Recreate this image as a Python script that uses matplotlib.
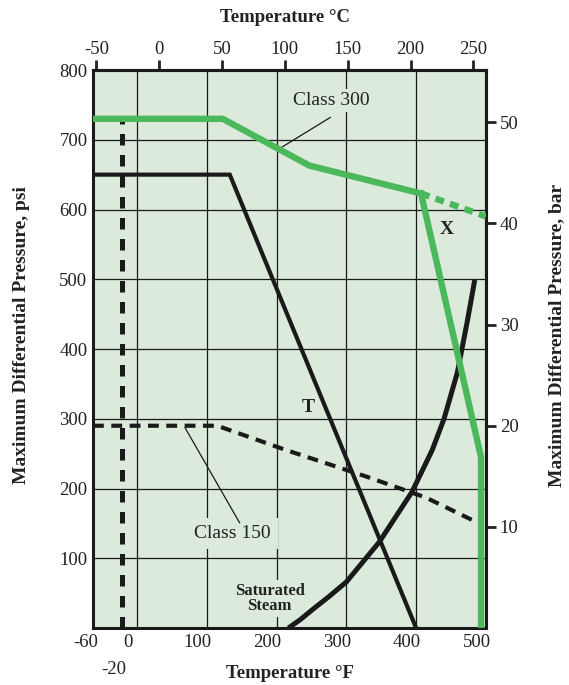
import numpy as np
import matplotlib.pyplot as plt
from matplotlib.transforms import ScaledTranslation

plt.rcParams['font.family'] = ['Liberation Serif', 'DejaVu Serif']
plt.rcParams['axes.unicode_minus'] = False

# data (deg F, psi)
class300_F = [-63, 123, 247, 407]
class300_psi = [730, 730, 663, 623]
class300_ext_F = [407, 500]
class300_ext_psi = [623, 590]
x_F = [407, 493, 493]
x_psi = [623, 245, 0]

t_F = [-63, 133, 400]
t_psi = [650, 650, 0]

class150_F = [-63, 115, 214, 329, 414, 480]
class150_psi = [290, 290, 255, 217, 187, 155]

low_F = [-22, -22]
low_psi = [0, 730]

steam_F = [217, 234, 251, 275, 300, 347, 394, 423, 440, 459, 473, 484]
steam_psi = [0, 12, 26, 45, 66, 123, 195, 255, 300, 366, 438, 499]

bottom_ticks = [-60, 0, 100, 200, 300, 400, 500]
top_ticks = [-50, 0, 50, 100, 150, 200, 250]
left_ticks = [100, 200, 300, 400, 500, 600, 700, 800]
right_ticks = [10, 20, 30, 40, 50]
grid_F = [0, 100, 200, 300, 400]
grid_psi = [100, 200, 300, 400, 500, 600, 700]

bg = '#dbeadb'
green = '#4ab85b'
ink = '#1a1a1a'
txt = '#222222'

fig = plt.figure(figsize=(5.69, 6.85), dpi=100)
ax = fig.add_axes([0.1634, 0.0832, 0.6906, 0.8146])
ax.set_facecolor(bg)
ax.set_xlim(-63, 500)
ax.set_ylim(0, 800)

for g in grid_F:
    ax.axvline(g, color=ink, lw=0.9, zorder=1)
for g in grid_psi:
    ax.axhline(g, color=ink, lw=0.9, zorder=1)

# labels with background boxes that mask the grid
ax.text(279, 756, 'Class 300', ha='center', va='center', fontsize=14, color=txt,
        bbox=dict(facecolor=bg, edgecolor='none', pad=2), zorder=2)
ax.text(137, 136, 'Class 150', ha='center', va='center', fontsize=14, color=txt,
        bbox=dict(facecolor=bg, edgecolor='none', pad=5), zorder=2)
ax.text(190, 42, 'Saturated\nSteam', ha='center', va='center', fontsize=12, fontweight='bold',
        color=txt, linespacing=0.95, bbox=dict(facecolor=bg, edgecolor='none', pad=2), zorder=2)
ax.text(246, 316, 'T', ha='center', va='center', fontsize=14, fontweight='bold', color=txt, zorder=2)
ax.text(444, 572, 'X', ha='center', va='center', fontsize=14, fontweight='bold', color=txt, zorder=2)

ax.plot([277, 207], [732, 689], color=ink, lw=0.9, zorder=3)
ax.plot([69, 147], [287, 151], color=ink, lw=0.9, zorder=3)

ax.plot(low_F, low_psi, color=ink, lw=3.6, dashes=(2.3, 1.9), zorder=4)
ax.plot(class150_F, class150_psi, color=ink, lw=3.0, dashes=(2.6, 1.8), zorder=4)
ax.plot(steam_F, steam_psi, color=ink, lw=3.6, zorder=4, solid_capstyle='butt')
ax.plot(t_F, t_psi, color=ink, lw=3.0, zorder=4, solid_joinstyle='miter')
ax.plot(class300_F, class300_psi, color=green, lw=4.6, zorder=5)
ax.plot(class300_ext_F, class300_ext_psi, color=green, lw=4.6, dashes=(1.4, 1.0), zorder=5)
ax.plot(x_F, x_psi, color=green, lw=4.6, zorder=5)

for s in ax.spines.values():
    s.set_linewidth(2.2)
    s.set_color(ink)

ax.set_xticks(bottom_ticks)
ax.set_xticklabels([str(v) for v in bottom_ticks])
ax.set_yticks(left_ticks)
ax.set_yticklabels([str(v) for v in left_ticks])
ax.tick_params(axis='both', which='major', length=0, labelsize=13.5, pad=4, colors=txt)
ax.set_xticks([-20], minor=True)
ax.set_xticklabels(['-20'], minor=True)
ax.tick_params(axis='x', which='minor', length=0, labelsize=13.5, pad=24, colors=txt)

# bottom labels in the original sit a little left of their grid lines
shift = ScaledTranslation(-9 / 100, 0, fig.dpi_scale_trans)
for lab in ax.get_xticklabels() + ax.get_xticklabels(minor=True):
    lab.set_transform(lab.get_transform() + shift)

top = ax.secondary_xaxis('top', functions=(lambda f: (f - 32) / 1.8, lambda c: c * 1.8 + 32))
top.set_xticks(top_ticks)
top.tick_params(length=7, width=2, labelsize=13.5, pad=2, colors=txt)
top.spines['top'].set_linewidth(2.2)

right = ax.secondary_yaxis('right', functions=(lambda p: p / 14.5038, lambda b: b * 14.5038))
right.set_yticks(right_ticks)
right.tick_params(length=7, width=2, labelsize=13.5, pad=3, colors=txt)
right.spines['right'].set_linewidth(2.2)

fig.text(285 / 569, 1 - 17 / 685, 'Temperature °C', ha='center', va='center',
         fontsize=13.5, fontweight='bold', color=txt)
fig.text(290 / 569, 1 - 673 / 685, 'Temperature °F', ha='center', va='center',
         fontsize=13.5, fontweight='bold', color=txt)
fig.text(22 / 569, 1 - 335 / 685, 'Maximum Differential Pressure, psi', ha='center', va='center',
         rotation=90, fontsize=14, fontweight='bold', color=txt)
fig.text(557 / 569, 1 - 335 / 685, 'Maximum Differential Pressure, bar', ha='center', va='center',
         rotation=90, fontsize=14, fontweight='bold', color=txt)

fig.savefig('out.png', dpi=100)
